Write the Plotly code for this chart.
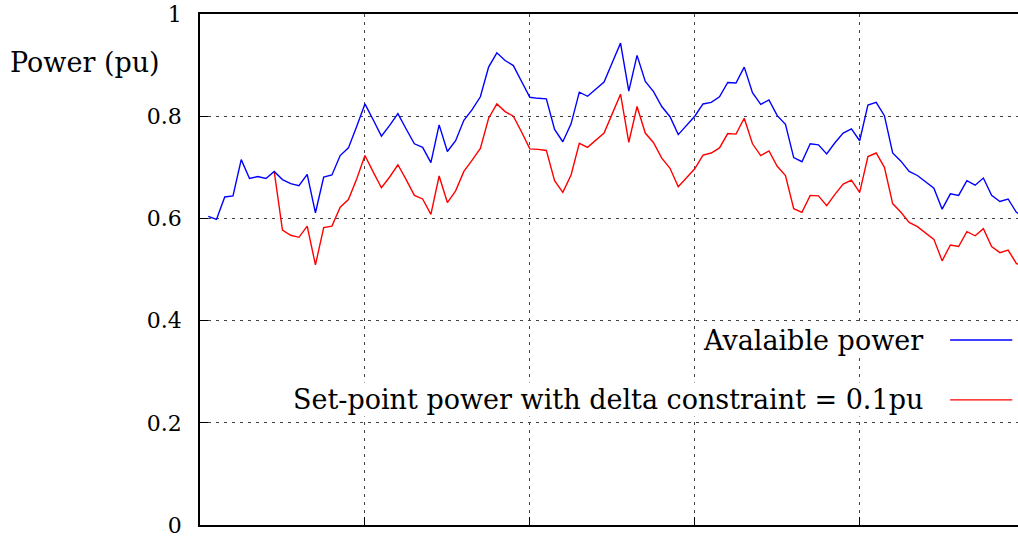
import plotly.graph_objects as go

# time steps (one sample per step)
steps = list(range(1, 101))

# available power (pu)
available = [
    0.604, 0.598, 0.642, 0.644, 0.715, 0.678, 0.682, 0.678, 0.692, 0.676,
    0.668, 0.664, 0.686, 0.611, 0.681, 0.685, 0.723, 0.738, 0.780, 0.824,
    0.793, 0.761, 0.782, 0.805, 0.775, 0.746, 0.739, 0.709, 0.783, 0.731,
    0.752, 0.792, 0.813, 0.838, 0.896, 0.924, 0.909, 0.899, 0.868, 0.837,
    0.835, 0.834, 0.774, 0.750, 0.785, 0.847, 0.839, 0.853, 0.867, 0.905,
    0.943, 0.849, 0.919, 0.868, 0.848, 0.819, 0.799, 0.764, 0.782, 0.800,
    0.824, 0.827, 0.838, 0.866, 0.865, 0.896, 0.846, 0.823, 0.832, 0.801,
    0.784, 0.719, 0.711, 0.746, 0.744, 0.726, 0.748, 0.767, 0.775, 0.752,
    0.822, 0.827, 0.801, 0.728, 0.712, 0.692, 0.684, 0.671, 0.659, 0.618,
    0.648, 0.645, 0.674, 0.665, 0.679, 0.645, 0.633, 0.638, 0.612, 0.603,
]

# set-point power with delta constraint (starts at step 9)
setpoint = [None] * 8 + [
    0.692, 0.577,
    0.567, 0.563, 0.585, 0.509, 0.582, 0.585, 0.622, 0.637, 0.677, 0.723,
    0.691, 0.660, 0.681, 0.705, 0.676, 0.645, 0.638, 0.608, 0.683, 0.631,
    0.654, 0.692, 0.714, 0.737, 0.796, 0.824, 0.809, 0.800, 0.769, 0.736,
    0.735, 0.733, 0.674, 0.651, 0.685, 0.747, 0.739, 0.754, 0.767, 0.805,
    0.843, 0.749, 0.819, 0.767, 0.748, 0.718, 0.698, 0.662, 0.679, 0.697,
    0.724, 0.728, 0.738, 0.766, 0.765, 0.796, 0.746, 0.723, 0.732, 0.702,
    0.684, 0.619, 0.612, 0.645, 0.644, 0.625, 0.647, 0.667, 0.675, 0.651,
    0.721, 0.728, 0.700, 0.629, 0.612, 0.592, 0.584, 0.572, 0.559, 0.517,
    0.548, 0.545, 0.574, 0.566, 0.580, 0.545, 0.533, 0.538, 0.512, 0.504,
]

ytick_vals = [0, 0.2, 0.4, 0.6, 0.8, 1]
ytick_text = ["0", "0.2", "0.4", "0.6", "0.8", "1"]

FONT = "DejaVu Serif"

fig = go.Figure()
fig.add_trace(go.Scatter(x=steps, y=setpoint, mode="lines",
                         line=dict(color="#ff0000", width=1.4),
                         name="Set-point power with delta constraint = 0.1pu"))
fig.add_trace(go.Scatter(x=steps, y=available, mode="lines",
                         line=dict(color="#0000ff", width=1.4),
                         name="Avalaible power"))

grid = dict(showgrid=True, gridcolor="#444444", gridwidth=1, griddash="3px,5px")

fig.update_xaxes(range=[0, 99.2], dtick=20, tick0=0, showticklabels=False,
                 ticks="inside", ticklen=8, tickcolor="black",
                 showline=True, linecolor="black", linewidth=1.5, mirror=True,
                 zeroline=False, **grid)
fig.update_yaxes(range=[0, 1], tickvals=ytick_vals, ticktext=ytick_text,
                 ticks="inside", ticklen=8, tickcolor="black",
                 ticklabelstandoff=12, ticklabeloverflow="allow",
                 showline=True, linecolor="black", linewidth=1.5, mirror=False,
                 zeroline=False, tickfont=dict(family=FONT, size=22, color="black"),
                 **grid)

# axis title placed like gnuplot's horizontal ylabel
fig.add_annotation(text="Power (pu)", xref="paper", yref="paper",
                   x=-0.046, y=0.905, xanchor="right", yanchor="middle",
                   showarrow=False, font=dict(family=FONT, size=27, color="black"))

# legend: text right-aligned, sample line to the right
legend_items = [("Avalaible power", "#0000ff", 0.362),
                ("Set-point power with delta constraint = 0.1pu", "#ff0000", 0.245)]
for label, color, ypos in legend_items:
    fig.add_annotation(text=label, xref="paper", yref="paper",
                       x=0.886, y=ypos, xanchor="right", yanchor="middle",
                       showarrow=False, bgcolor="white",
                       font=dict(family=FONT, size=27, color="black"))
    fig.add_shape(type="line", xref="paper", yref="paper",
                  x0=0.917, x1=0.993, y0=ypos, y1=ypos,
                  line=dict(color=color, width=1.3))

fig.update_layout(
    width=1018, height=537,
    margin=dict(l=200, r=0, t=14, b=12),
    plot_bgcolor="white", paper_bgcolor="white",
    showlegend=False,
)

# drop the default page margin so the figure sits at the window's corner
fig.write_html("out.html", config={"displayModeBar": False},
               post_script="document.body.style.margin='0';")
